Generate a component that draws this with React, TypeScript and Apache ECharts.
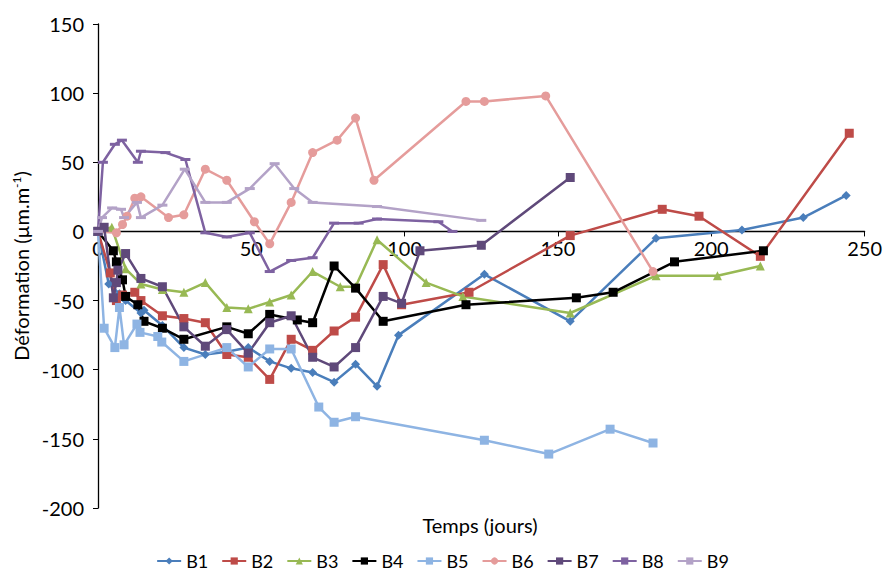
import React, { useEffect, useRef } from "react";
import * as echarts from "echarts";

const seriesNames = ["B1", "B2", "B3", "B4", "B5", "B6", "B7", "B8", "B9"];

const B1 = [[0,0],[3.5,-38],[7,-45],[9,-50],[14,-59],[15,-57],[21,-68],[28,-84],[35,-89],[42,-87],[49,-84],[56,-94],[63,-99],[70,-102],[77,-109],[84,-96],[91,-112],[98,-75],[126,-31],[154,-65],[182,-5],[210,1],[230,10],[244,26]];
const B2 = [[0,0],[4,-30],[6,-50],[8,-46],[12,-44],[14,-50],[21,-61],[28,-63],[35,-66],[42,-89],[49,-91],[56,-107],[63,-78],[70,-86],[77,-72],[84,-62],[93,-24],[99,-53],[121,-44],[154,-3],[184,16],[196,11],[216,-18],[245,71]];
const B3 = [[0,0],[4.5,3],[9,-27],[14,-38],[21,-42],[28,-44],[35,-37],[42,-55],[49,-56],[56,-51],[63,-46],[70,-29],[79,-40],[84,-40],[91,-6],[107,-37],[119,-47],[154,-59],[182,-32],[202,-32],[216,-25]];
const B4 = [[0,0],[5,-14],[6,-22],[8,-35],[9,-47],[13,-53],[15,-65],[21,-70],[28,-78],[42,-69],[49,-74],[56,-60],[65,-64],[70,-66],[77,-25],[84,-41],[93,-65],[120,-53],[156,-48],[168,-44],[188,-22],[217,-14]];
const B5 = [[0,0],[2,-70],[5.5,-84],[7,-55],[8.5,-82],[12.7,-67],[13.7,-73],[19.5,-76],[20.8,-80],[28,-94],[42,-84],[49,-98],[56,-85],[63,-85],[72,-127],[77,-138],[84,-134],[126,-151],[147,-161],[167,-143],[181,-153]];
const B6 = [[0,0],[6,-1],[8,5],[9.5,11],[12,24],[14,25],[23,10],[28,12],[35,45],[42,37],[51,7],[56,-9],[63,21],[70,57],[78,66],[84,82],[90,37],[120,94],[126,94],[146,98],[181,-29]];
const B7 = [[0,0],[2,3],[5,-48],[6,-37],[6.5,-28],[9,-16],[14,-34],[21,-40],[28,-69],[35,-83],[42,-71],[49,-88],[56,-66],[63,-61],[70,-91],[77,-98],[84,-84],[93,-47],[99,-52],[105,-14],[125,-10],[154,39]];
const B8 = [[0,0],[1.6,50],[5.5,63],[7.8,66],[13,50],[14,58],[22,57],[28.5,52],[35,-1],[42,-4],[49.5,-1],[56,-29],[63,-21],[70,-19],[77,6],[85,6],[91,9],[111,7],[115.6,0]];
const B9 = [[0,0],[1.3,10],[4.6,17],[7.5,16],[8.5,10],[12.7,21],[14,10],[21,19],[28.3,45],[35,21],[42,21],[49.5,31],[57.6,49],[64,31],[70,21],[91,18],[125,8]];

const seriesData = [B1, B2, B3, B4, B5, B6, B7, B8, B9];
const colors = ["#4A7EBB", "#BE4B48", "#98B954", "#000000", "#8EB4E3", "#E59C9B", "#5F497A", "#7E62A1", "#B3A2C7"];
const dash = "path://M0,0 L10,0 L10,3 L0,3 Z";
const symbols = ["diamond", "rect", "triangle", "rect", "rect", "circle", "rect", dash, dash];
const symbolSizes: any[] = [9, 9, 9, 9, 9, 9, 9, [10, 3], [10, 3]];

const xTicks = { min: 0, max: 250, interval: 50 };
const yTicks = { min: -200, max: 150, interval: 50 };

const FONT = "Lato, 'Open Sans', sans-serif";
const W = 885, H = 580;
const GRID = { left: 98, right: 20, top: 24, bottom: 72 };
const zeroOffset = (H - GRID.top - GRID.bottom) * (0 - yTicks.min) / (yTicks.max - yTicks.min);

export default function App() {
  const ref = useRef<HTMLDivElement>(null);
  useEffect(() => {
    if (!ref.current) return;
    const chart = echarts.init(ref.current, undefined, { renderer: "svg" });
    chart.setOption({
      animation: false,
      backgroundColor: "#ffffff",
      textStyle: { fontFamily: FONT, color: "#000" },
      grid: { ...GRID, containLabel: false },
      xAxis: {
        type: "value",
        min: xTicks.min,
        max: xTicks.max,
        interval: xTicks.interval,
        position: "bottom",
        offset: -zeroOffset,
        axisLine: { onZero: false, lineStyle: { color: "#000", width: 1.3 } },
        axisTick: { show: true, length: 5, lineStyle: { color: "#000" } },
        axisLabel: { fontSize: 20, color: "#000", fontFamily: FONT, margin: 7 },
        splitLine: { show: false },
      },
      yAxis: {
        type: "value",
        min: yTicks.min,
        max: yTicks.max,
        interval: yTicks.interval,
        axisLine: { show: true, onZero: false, lineStyle: { color: "#000", width: 1.3 } },
        axisTick: { show: true, length: 5, lineStyle: { color: "#000" } },
        axisLabel: { fontSize: 20, color: "#000", fontFamily: FONT, margin: 14 },
        splitLine: { show: false },
        name: "Déformation (µm.m{sup|-1})",
        nameLocation: "middle",
        nameGap: 64,
        nameTextStyle: {
          fontSize: 20,
          color: "#000",
          fontFamily: FONT,
          rich: { sup: { fontSize: 12, verticalAlign: "top", padding: [0, 0, 8, 0], fontFamily: FONT } },
        },
      },
      legend: {
        top: 551,
        left: "center",
        itemWidth: 24,
        itemHeight: 9,
        itemGap: 13,
        padding: 0,
        textStyle: { fontSize: 18, lineHeight: 20, color: "#000", fontFamily: FONT },
        data: seriesNames,
      },
      graphic: [
        {
          type: "text",
          x: 480,
          y: 525,
          style: { text: "Temps (jours)", fontSize: 20, fill: "#000", fontFamily: FONT, align: "center", verticalAlign: "middle" },
        },
      ],
      series: seriesData.map((d, i) => ({
        name: seriesNames[i],
        type: "line",
        data: d,
        color: colors[i],
        symbol: symbols[i],
        symbolSize: symbolSizes[i],
        showSymbol: true,
        lineStyle: { width: 2.5, color: colors[i] },
        itemStyle: { color: colors[i], borderWidth: 0 },
      })),
    });
    return () => chart.dispose();
  }, []);
  return <div ref={ref} style={{ position: "fixed", left: 0, top: 0, width: W, height: H }} />;
}
